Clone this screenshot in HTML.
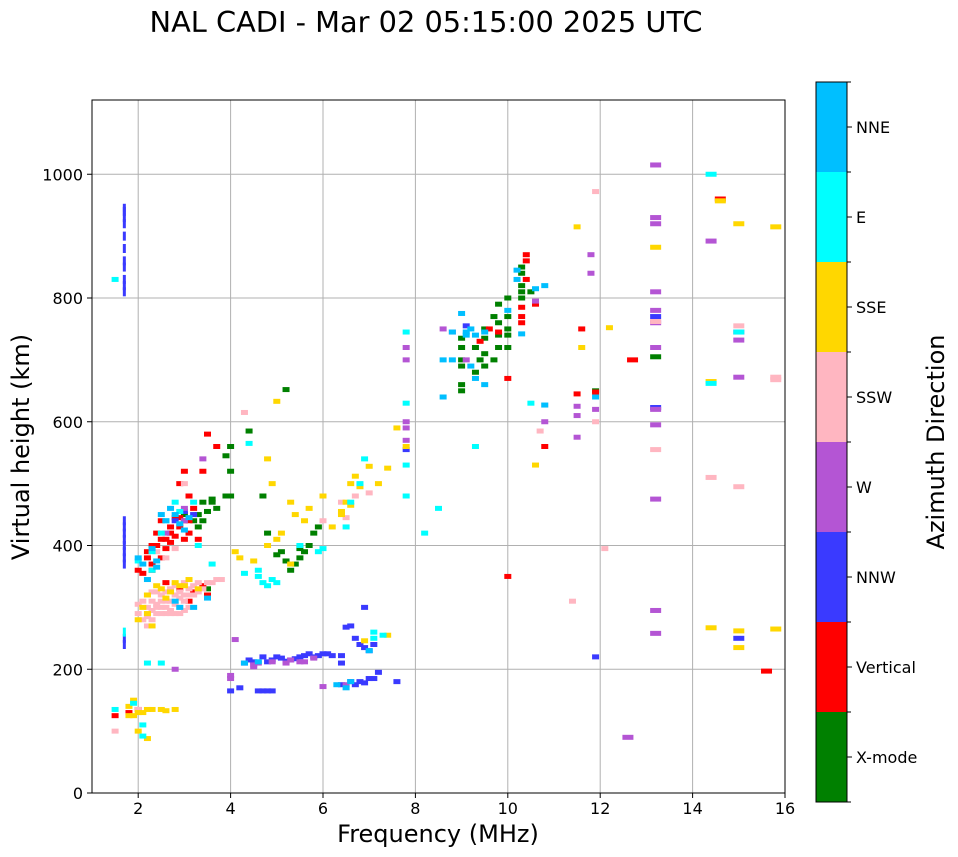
<!DOCTYPE html>
<html><head><meta charset="utf-8">
<style>
html,body{margin:0;padding:0;background:#fff;}
svg{display:block;font-family:"DejaVu Sans","Liberation Sans",sans-serif;}
</style></head>
<body>
<svg id="chart" width="958" height="857" viewBox="0 0 958 857" xmlns="http://www.w3.org/2000/svg">
<text x="426" y="32" font-size="28.8" text-anchor="middle">NAL CADI - Mar 02 05:15:00 2025 UTC</text>
<g id="grid"></g>
<g id="marks"></g>
<rect x="92" y="100" width="693" height="693" fill="none" stroke="#000" stroke-width="1"/>
<g id="xticks"></g>
<g id="yticks"></g>
<text x="438" y="842" font-size="24" text-anchor="middle">Frequency (MHz)</text>
<text transform="translate(29,447) rotate(-90)" font-size="24" text-anchor="middle">Virtual height (km)</text>
<g id="cbar"></g>
<text transform="translate(944,442) rotate(-90)" font-size="24" text-anchor="middle">Azimuth Direction</text>
</svg>
<script>
const categories = ["X-mode","Vertical","NNW","W","SSW","SSE","E","NNE"];
const colors = ["#008000","#ff0000","#3a3aff","#b455d4","#ffb6c1","#ffd700","#00ffff","#00bfff"];
const xTicks = [2,4,6,8,10,12,14,16];
const yTicks = [0,200,400,600,800,1000];

const ptsXmode = [[3.3,450],[3.4,440],[3.5,455],[3.6,470],[3.3,430],[3.0,450],[3.9,480],[4.0,480],[4.0,520],[3.9,545],[4.0,560],[4.4,585],[5.2,652],[5.4,370],[5.5,380],[5.6,390],[5.7,400],[5.3,360],[5.1,390],[4.8,420],[5.8,420],[3.5,330],[9.0,650],[9.0,660],[9.0,700],[9.0,720],[9.0,735],[9.3,680],[9.4,700],[9.5,710],[9.5,735],[9.5,750],[9.8,720],[9.8,740],[9.8,760],[9.8,790],[10.0,750],[10.0,770],[10.0,800],[10.3,800],[10.3,820],[10.3,840],[10.5,810],[11.9,650],[13.2,705],[4.7,480],[3.6,475],
[3.7,460],[3.4,470],[3.2,440],[5.0,385],[5.2,375],[5.5,395],[5.9,430],[9.0,690],[9.3,720],[9.5,690],[9.7,700],[9.7,770],[10.0,720],[10.0,740],[10.3,810],[10.3,850]];
const ptsVertical = [[2.2,390],[2.3,400],[2.4,420],[2.5,440],[2.6,410],[2.7,430],[2.8,445],[2.9,430],[3.0,440],[3.1,420],[3.2,460],[2.3,370],[2.5,380],[3.0,520],[2.9,500],[3.1,480],[2.7,405],[3.4,520],[3.5,580],[3.7,560],[2.6,340],[2.9,330],[3.1,310],[3.2,325],[3.4,335],[2.0,360],[1.5,125],[1.8,130],[2.0,135],[9.4,730],[9.6,750],[9.8,745],[10.3,770],[10.3,760],[10.3,785],[10.4,870],[10.4,860],[10.4,830],[10.6,790],[10.0,670],[10.8,560],[11.5,645],[11.6,750],[12.7,700],[14.6,960],[15.6,197],[10.0,350],[11.9,648],
[2.4,400],[2.5,410],[2.7,420],[2.8,415],[2.9,445],[3.1,440],[3.3,410],[2.2,380],[2.6,395],[3.0,410],[2.1,355],[2.3,360],[3.5,320]];
const ptsNNW = [[1.7,810],[1.7,820],[1.7,830],[1.7,850],[1.7,900],[1.7,920],[1.7,940],[1.7,440],[1.7,420],[1.7,400],[1.7,380],[1.7,250],[2.8,440],[3.0,455],[3.2,450],[4.3,210],[4.5,212],[4.7,220],[4.9,215],[5.1,218],[5.3,215],[5.5,220],[5.7,225],[5.9,222],[6.1,225],[6.4,222],[6.6,270],[6.7,250],[6.8,240],[6.9,235],[7.0,230],[7.1,240],[6.4,175],[6.6,180],[6.8,180],[7.1,185],[7.2,195],[7.6,180],[4.0,165],[4.6,165],[4.8,165],[6.9,300],[6.4,210],[11.9,220],[13.2,770],[15.0,250],[9.1,755],[13.2,623],[7.8,555],
[1.7,860],[1.7,880],[1.7,930],[1.7,945],[1.7,410],[1.7,430],[1.7,390],[1.7,370],[1.7,240],[4.4,215],[4.8,212],[5.0,220],[5.2,213],[5.4,217],[5.6,222],[5.8,220],[6.0,225],[6.2,222],[6.5,268],[6.7,175],[6.9,178],[7.0,185],[4.7,165],[4.9,165],[4.2,170]];
const ptsW = [[2.8,200],[3.4,540],[2.6,420],[3.0,460],[3.0,440],[4.0,190],[4.0,185],[4.1,248],[4.3,210],[4.5,207],[5.2,210],[5.5,212],[6.0,172],[6.5,175],[7.8,600],[7.8,590],[7.8,570],[7.8,700],[7.8,720],[8.6,750],[8.8,745],[9.1,700],[10.6,795],[10.8,600],[11.8,870],[11.8,840],[11.9,620],[11.5,625],[11.5,575],[12.6,90],[13.2,1015],[13.2,930],[13.2,920],[13.2,810],[13.2,780],[13.2,760],[13.2,720],[13.2,620],[13.2,595],[13.2,475],[13.2,295],[13.2,258],[14.4,892],[15.0,745],[15.0,732],[15.0,672],[11.5,610],
[4.6,210],[4.9,212],[5.3,215],[5.6,212],[5.8,218],[4.5,204]];
const ptsSSW = [[2.2,300],[2.3,310],[2.4,290],[2.5,300],[2.6,310],[2.7,295],[2.8,305],[2.9,315],[3.0,320],[3.1,330],[3.2,320],[2.5,320],[2.7,330],[2.9,300],[3.3,340],[3.0,295],[2.3,280],[2.6,290],[2.8,320],[2.4,325],[3.5,340],[3.7,345],[2.2,270],[2.0,290],[2.6,380],[2.8,395],[2.4,390],[3.0,500],[4.3,615],[6.0,440],[6.4,470],[6.7,480],[6.5,445],[7.0,485],[10.7,585],[10.8,627],[11.4,310],[11.9,972],[11.9,600],[12.1,395],[13.2,555],[13.2,762],[14.4,510],[15.0,755],[15.0,495],[15.8,668],[15.8,672],[1.5,100],[2.0,135],
[2.1,310],[2.2,320],[2.3,295],[2.4,305],[2.5,290],[2.6,300],[2.7,310],[2.8,290],[2.9,325],[3.0,310],[3.1,320],[3.2,335],[3.3,325],[3.4,330],[2.5,310],[2.6,325],[2.8,335],[3.0,340],[2.2,285],[2.4,300],[3.6,340],[3.8,345],[2.0,305],[2.1,280],[2.3,325],[2.7,290],[3.1,300],[2.9,290]];
const ptsSSE = [[1.8,140],[1.9,125],[2.0,130],[2.3,135],[2.5,135],[2.8,135],[1.9,150],[2.0,100],[2.2,88],[2.1,300],[2.2,290],[2.4,335],[2.6,315],[2.7,325],[2.9,335],[3.1,345],[3.3,330],[2.3,270],[2.0,280],[4.1,390],[4.2,380],[4.5,375],[4.8,400],[5.0,410],[5.4,450],[5.7,460],[4.8,540],[4.9,500],[5.0,633],[5.3,470],[6.0,480],[6.2,430],[6.4,450],[6.5,470],[6.6,500],[6.7,512],[6.8,495],[7.0,528],[7.2,500],[7.4,525],[7.6,590],[7.8,560],[7.4,255],[6.9,246],[10.6,530],[11.6,720],[12.2,752],[11.5,915],[13.2,882],[14.4,665],[15.0,920],[15.0,262],[15.0,235],[15.8,915],[15.8,265],[14.4,267],[14.6,957],[5.3,370],
[2.1,130],[2.2,135],[2.6,133],[1.8,125],[2.5,330],[2.8,340],[3.0,335],[2.2,320],[5.1,420],[5.6,440],[6.6,465],[6.4,455]];
const ptsE = [[1.5,135],[1.9,145],[2.1,110],[2.1,92],[2.2,210],[2.5,210],[1.7,260],[2.0,375],[2.3,390],[2.5,420],[2.8,470],[3.6,370],[3.3,400],[4.9,345],[5.0,340],[4.8,335],[4.6,360],[5.5,400],[5.9,390],[6.0,395],[6.5,430],[6.8,500],[6.9,540],[7.1,260],[7.1,250],[7.3,255],[7.8,480],[7.8,530],[7.8,745],[7.8,630],[8.2,420],[9.3,560],[10.5,630],[14.4,662],[14.4,1000],[15.0,745],[1.5,830],[4.4,565],[4.3,355],
[2.3,360],[2.6,440],[2.9,455],[3.2,470],[4.6,350],[4.7,340],[8.5,460],[6.6,470]];
const ptsNNE = [[2.9,435],[2.7,460],[2.4,365],[2.2,345],[2.0,380],[2.9,300],[3.2,300],[2.8,310],[3.5,315],[4.3,210],[4.6,212],[6.3,175],[6.5,170],[6.6,180],[7.0,230],[8.6,640],[8.6,700],[8.8,700],[9.0,775],[9.2,750],[9.3,740],[9.1,740],[9.3,670],[9.5,660],[10.2,845],[10.2,830],[10.0,780],[10.3,742],[10.6,815],[10.8,820],[10.8,627],[11.9,640],[2.6,440],
[2.5,450],[2.8,450],[3.1,445],[2.3,395],[2.1,370],[2.4,375],[9.1,745],[8.8,745],[9.2,690],[9.5,745],[3.0,425]];
const seriesPts = [ptsXmode,ptsVertical,ptsNNW,ptsW,ptsSSW,ptsSSE,ptsE,ptsNNE];

const NS="http://www.w3.org/2000/svg";
const X0=92,X1=785,Y0=793,Y1=100, FMIN=1,FMAX=16,HMIN=0,HMAX=1120;
function xs(f){return X0+(f-FMIN)/(FMAX-FMIN)*(X1-X0);}
function ys(h){return Y0-(h-HMIN)/(HMAX-HMIN)*(Y0-Y1);}
function mk(tag,attrs,parent){const e=document.createElementNS(NS,tag);for(const k in attrs)e.setAttribute(k,attrs[k]);parent.appendChild(e);return e;}

const grid=document.getElementById('grid');
xTicks.forEach(t=>{const l=mk('line',{x1:xs(t),x2:xs(t),y1:Y1,y2:Y0,stroke:'#b0b0b0','stroke-width':1},grid);

});
yTicks.forEach(t=>{const l=mk('line',{x1:X0,x2:X1,y1:ys(t),y2:ys(t),stroke:'#b0b0b0','stroke-width':1},grid);

});

const marks=document.getElementById('marks');
seriesPts.forEach((pts,ci)=>{pts.forEach(p=>{
  let w = p[0]>12.5?11:7, h=5;
  if(p[0]>1.65&&p[0]<1.75){w=3;h=9;}
  const r=mk('rect',{x:xs(p[0])-w/2,y:ys(p[1])-h/2,width:w,height:h,fill:colors[ci]},marks);
  
  
});});

const xt=document.getElementById('xticks');
xTicks.forEach(t=>{mk('line',{x1:xs(t),x2:xs(t),y1:Y0,y2:Y0+5,stroke:'#000'},xt);
const tx=mk('text',{x:xs(t),y:Y0+21,'font-size':16,'text-anchor':'middle'},xt);tx.textContent=t;

});
const yt=document.getElementById('yticks');
yTicks.forEach(t=>{mk('line',{x1:X0-5,x2:X0,y1:ys(t),y2:ys(t),stroke:'#000'},yt);
const tx=mk('text',{x:X0-9,y:ys(t)+6,'font-size':16,'text-anchor':'end'},yt);tx.textContent=t;

});

const cb=document.getElementById('cbar');
const CB_X=816,CB_W=31,CB_TOP=82,CB_BOT=802,seg=(CB_BOT-CB_TOP)/categories.length;
categories.forEach((c,i)=>{const y=CB_BOT-(i+1)*seg;
const r=mk('rect',{x:CB_X,y:y,width:CB_W,height:seg,fill:colors[i]},cb);


mk('line',{x1:CB_X+CB_W,x2:CB_X+CB_W+5,y1:y+seg/2,y2:y+seg/2,stroke:'#000'},cb);
const tx=mk('text',{x:CB_X+CB_W+9,y:y+seg/2+6,'font-size':16},cb);tx.textContent=c;

});
for(let i=0;i<=categories.length;i++){const y=CB_TOP+i*seg;mk('line',{x1:CB_X+CB_W,x2:CB_X+CB_W+4,y1:y,y2:y,stroke:'#000'},cb);}
mk('rect',{x:CB_X,y:CB_TOP,width:CB_W,height:CB_BOT-CB_TOP,fill:'none',stroke:'#000'},cb);
</script>
</body></html>
